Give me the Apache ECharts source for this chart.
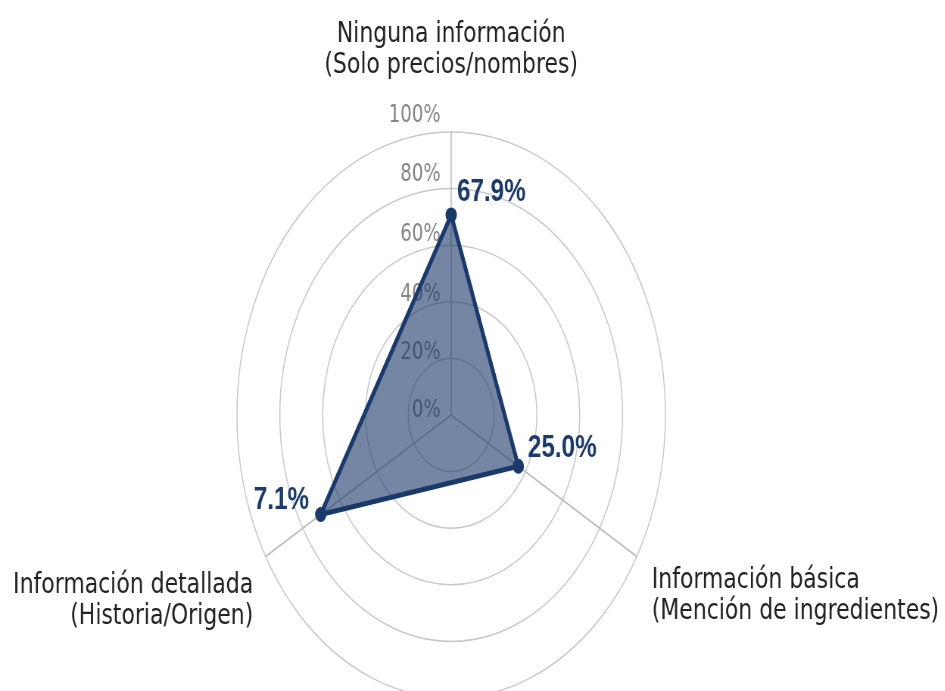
<!DOCTYPE html>
<html>
<head>
<meta charset="utf-8">
<script src="https://cdn.jsdelivr.net/npm/echarts@6/dist/echarts.min.js"></script>
<style>
  html, body { margin: 0; padding: 0; overflow: hidden; background: #fff; }
  #chart { width: 1248px; height: 691px; transform: scaleX(0.757); transform-origin: 0 0; }
</style>
</head>
<body>
<div id="chart"></div>
<script>
// indicadores (orden de ECharts: arriba, abajo-izq, abajo-der)
const indicatorNames = [
  'Ninguna información\n(Solo precios/nombres)',
  'Información detallada\n(Historia/Origen)',
  'Información básica\n(Mención de ingredientes)'
];
// posicion (% de la escala radial)
const plotted = [70.7, 70.3, 36.2];
// etiquetas impresas junto a cada punto
const shareLabels = ['67.9%', '7.1%', '25.0%'];
const tickMax = 100;

const navy = '#1b3a6b';
const nameFont = { color: '#222', fontSize: 29, lineHeight: 31, fontFamily: 'DejaVu Sans' };
// renglon vacio encima de cada nombre para bajarlo (px)
const nameShift = [0, 70, 56];
// pequeño ajuste vertical de las etiquetas del eje
const tickShift = [8, 11, 14, 20, 27, 32];

let myChart = echarts.init(document.getElementById('chart'));

let indicators = indicatorNames.map((name, i) => {
  let each = { name: name, max: tickMax, min: 0 };
  if (i === 0) {
    each.nameGap = 51;
    each.axisLabel = { show: true };
  } else if (i === 1) {
    each.nameGap = 19;
  } else {
    each.nameGap = 23;
  }
  return each;
});

let nameRich = { n: nameFont };
nameShift.forEach((s, i) => {
  nameRich['g' + i] = { fontSize: 2, lineHeight: s, height: s };
});

let tickRich = {};
tickShift.forEach((s, i) => {
  tickRich['t' + i] = { color: '#858585', fontSize: 24, fontFamily: 'DejaVu Sans', padding: [0, 0, s, 0] };
});

let option = {
  animation: false,
  radar: {
    center: [596, 415],
    radius: 283,
    shape: 'circle',
    splitNumber: 5,
    startAngle: 90,
    indicator: indicators,
    axisName: Object.assign({}, nameFont, {
      formatter: function (name) {
        let i = indicatorNames.indexOf(name);
        let lines = name.split('\n').map(l => '{n|' + l + '}');
        if (nameShift[i] > 0) lines.unshift('{g' + i + '| }');
        return lines.join('\n');
      },
      rich: nameRich
    }),
    axisLine: { lineStyle: { color: '#b8b8b8', width: 1.5 } },
    splitLine: { lineStyle: { color: '#c8c8c8', width: 1.5 } },
    splitArea: { show: false },
    axisTick: { show: false },
    axisLabel: {
      show: false,
      color: '#858585',
      fontSize: 24,
      fontFamily: 'DejaVu Sans',
      margin: 14,
      verticalAlign: 'middle',
      formatter: function (v) {
        return '{t' + Math.round(v / 20) + '|' + v + '%}';
      },
      rich: tickRich
    }
  },
  series: [{
    type: 'radar',
    symbol: 'circle',
    symbolSize: 15,
    itemStyle: { color: navy },
    lineStyle: { color: navy, width: 5 },
    areaStyle: { color: navy, opacity: 0.61 },
    label: {
      show: true,
      position: 'inside',
      formatter: function (p) {
        let i = p.dimensionIndex;
        return '{v' + i + '|' + shareLabels[i] + '}';
      },
      rich: {
        v0: { color: navy, fontSize: 32, fontWeight: 'bold', fontFamily: 'Liberation Sans', padding: [0, 0, 46, 106] },
        v1: { color: navy, fontSize: 32, fontWeight: 'bold', fontFamily: 'Liberation Sans', padding: [0, 104, 28, 0] },
        v2: { color: navy, fontSize: 32, fontWeight: 'bold', fontFamily: 'Liberation Sans', padding: [0, 0, 36, 116] }
      }
    },
    data: [{ value: plotted, name: 'Porcentaje' }]
  }]
};

myChart.setOption(option);
</script>
</body>
</html>
